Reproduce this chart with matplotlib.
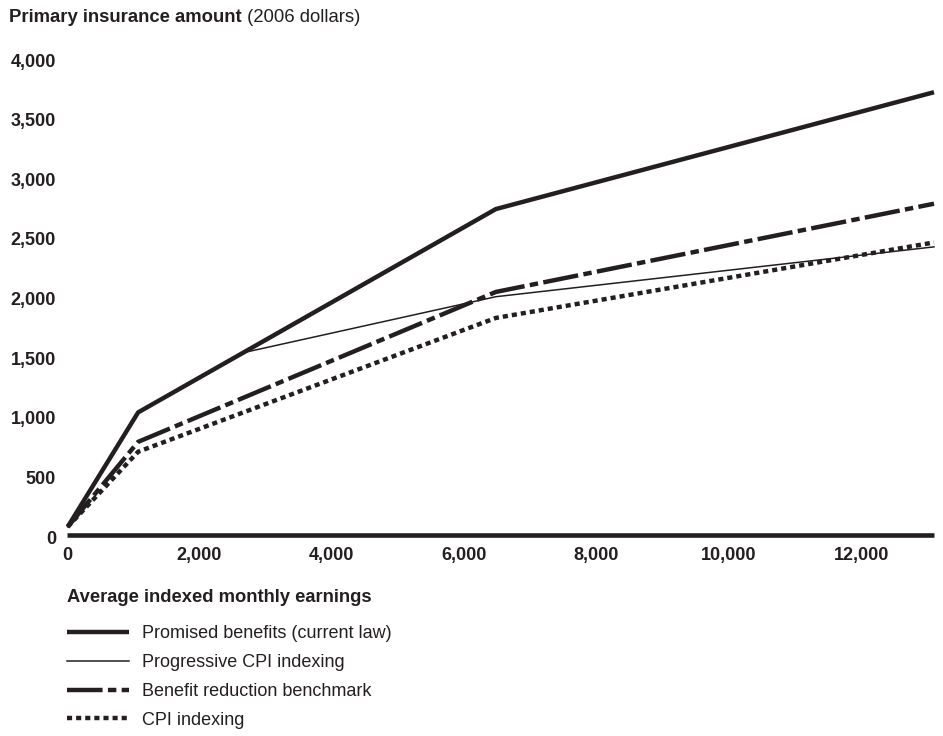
import matplotlib
matplotlib.use("Agg")
import matplotlib.pyplot as plt

plt.rcParams['font.family'] = ['Liberation Sans', 'DejaVu Sans']

# Average indexed monthly earnings (x) and primary insurance amount (y)
x_promised = [10, 1075, 6480, 13100]
y_promised = [85, 1045, 2750, 3730]

x_progressive = [10, 1075, 2700, 6480, 13100]
y_progressive = [85, 1045, 1550, 2015, 2433]

x_benchmark = [10, 1075, 6480, 13100]
y_benchmark = [85, 798, 2055, 2795]

x_cpi = [10, 1075, 6480, 13100]
y_cpi = [85, 715, 1837, 2470]

labels = ["Promised benefits (current law)", "Progressive CPI indexing",
          "Benefit reduction benchmark", "CPI indexing"]

x_ticks = [0, 2000, 4000, 6000, 8000, 10000, 12000]
y_ticks = [0, 500, 1000, 1500, 2000, 2500, 3000, 3500, 4000]

INK = '#231f20'
W, H = 943, 736
fig = plt.figure(figsize=(W / 100, H / 100), dpi=100)
ax = fig.add_axes([67 / W, 1 - 537 / H, (934 - 67) / W, (537 - 60) / H])

ax.plot(x_promised, y_promised, color=INK, lw=3.2, solid_capstyle='butt',
        clip_on=False, label=labels[0])
ax.plot(x_progressive, y_progressive, color=INK, lw=1.1,
        clip_on=False, label=labels[1])
ax.plot(x_benchmark, y_benchmark, color=INK, lw=3.2, dash_capstyle='butt',
        linestyle=(0, (8, 1.2, 1.9, 1.2)), clip_on=False, label=labels[2])
ax.plot(x_cpi, y_cpi, color=INK, lw=3.2, dash_capstyle='butt',
        linestyle=(0, (1.15, 0.9)), clip_on=False, label=labels[3])

for side in ['top', 'right', 'left']:
    ax.spines[side].set_visible(False)
ax.spines['bottom'].set_linewidth(3.3)
ax.spines['bottom'].set_color(INK)
ax.spines['bottom'].set_capstyle('butt')
ax.spines['bottom'].set_position(('data', 20))

ax.set_xlim(0, 13100)
ax.set_ylim(0, 4000)
ax.set_xticks(x_ticks, [f"{v:,}" for v in x_ticks], fontweight='bold')
ax.set_yticks(y_ticks, [f"{v:,}" for v in y_ticks], fontweight='bold')
ax.tick_params(length=0, labelsize=13, colors=INK)
ax.tick_params(axis='y', pad=8)
ax.tick_params(axis='x', pad=9)

t1 = fig.text(9 / W, 1 - 18 / H, "Primary insurance amount", fontsize=13.3,
              fontweight='bold', va='center', ha='left', color=INK)
ax.annotate(" (2006 dollars)", xy=(1, 0), xycoords=t1, va='bottom', ha='left',
            fontsize=13.3, color=INK, annotation_clip=False)

fig.text(67 / W, 1 - 598 / H, "Average indexed monthly earnings", fontsize=13.2,
         fontweight='bold', va='center', ha='left', color=INK)

leg = ax.legend(loc='upper left', bbox_to_anchor=(67 / W, 1 - 625 / H),
                bbox_transform=fig.transFigure, frameon=False, fontsize=13,
                borderpad=0, borderaxespad=0, handlelength=3.45,
                handletextpad=0.72, labelspacing=0.66)
for t in leg.get_texts():
    t.set_color(INK)

fig.savefig("out.png", dpi=100)
